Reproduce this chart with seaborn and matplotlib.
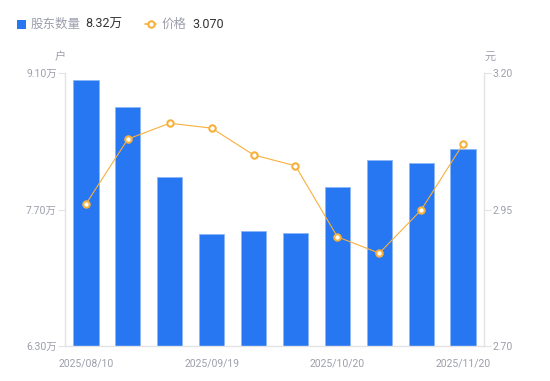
import numpy as np
import pandas as pd
import matplotlib
matplotlib.use("Agg")
import matplotlib.pyplot as plt
import seaborn as sns
from matplotlib.lines import Line2D
from matplotlib.patches import Rectangle

dates = ["2025/08/10", "2025/08/20", "2025/08/31", "2025/09/19", "2025/09/30",
         "2025/10/10", "2025/10/20", "2025/10/31", "2025/11/10", "2025/11/20"]
holders = [9.03, 8.75, 8.03, 7.45, 7.48, 7.46, 7.93, 8.21, 8.18, 8.32]  # 万户
prices = [2.960, 3.079, 3.108, 3.099, 3.050, 3.030, 2.900, 2.870, 2.949, 3.070]
shown_labels = ["2025/08/10", "2025/09/19", "2025/10/20", "2025/11/20"]
left_ticks = [6.30, 7.70, 9.10]
right_ticks = [2.70, 2.95, 3.20]

sns.set_theme(style="white")
plt.rcParams["font.family"] = ["Roboto", "Noto Sans CJK SC", "DejaVu Sans"]

BLUE = "#2777f3"
ORANGE = "#f7b03c"
GRAY = "#9d9fab"
SPINE = "#e3e3e6"
DARK = "#333333"
CJK = ["Noto Sans CJK SC", "DejaVu Sans"]

fig = plt.figure(figsize=(5.5, 3.81), dpi=100)
ax = fig.add_axes([65 / 550, 1 - 346 / 381, (484 - 65) / 550, (346 - 73) / 381])

df = pd.DataFrame({"date": dates, "holders": holders, "price": prices})
sns.barplot(data=df, x="date", y="holders", color=BLUE, width=0.6, ax=ax,
            saturation=1, edgecolor="#8db6f7", linewidth=0.6)
ax.set_ylim(left_ticks[0], left_ticks[-1])
ax.set_xlim(-0.5, len(dates) - 0.5)
ax.set_yticks(left_ticks)
ax.set_yticklabels([f"{v:.2f}万" for v in left_ticks])
idx = [dates.index(d) for d in shown_labels]
ax.set_xticks(idx)
ax.set_xticklabels(shown_labels)
ax.set_xlabel("")
ax.set_ylabel("")

ax2 = ax.twinx()
sns.lineplot(x=np.arange(len(prices)), y=prices, ax=ax2, color=ORANGE, linewidth=0.8,
             marker="o", markersize=4.6, markerfacecolor="white",
             markeredgecolor=ORANGE, markeredgewidth=1.5)
ax2.set_ylim(right_ticks[0], right_ticks[-1])
ax2.set_yticks(right_ticks)
ax2.set_yticklabels([f"{v:.2f}" for v in right_ticks])
ax2.set_xlim(-0.5, len(dates) - 0.5)

for a in (ax, ax2):
    for s in a.spines.values():
        s.set_visible(False)
    a.grid(False)
ax.spines["left"].set_visible(True)
ax.spines["left"].set_color(SPINE)
ax.spines["bottom"].set_visible(True)
ax.spines["bottom"].set_color(SPINE)
ax2.spines["right"].set_visible(True)
ax2.spines["right"].set_color(SPINE)
for s in (ax.spines["left"], ax.spines["bottom"], ax2.spines["right"]):
    s.set_linewidth(1)

ax.tick_params(axis="y", left=True, length=5, width=0.8, color=SPINE,
               labelsize=7.5, labelcolor=GRAY, pad=1)
ax.tick_params(axis="x", bottom=False, labelsize=7.5, labelcolor=GRAY, pad=3)
ax2.tick_params(axis="y", right=True, length=5, width=0.8, color=SPINE,
                labelsize=7.5, labelcolor=GRAY, pad=1)

# unit labels
fig.text(60 / 550, 1 - 57 / 381, "户", color=GRAY, fontsize=8, ha="center", va="center", family=CJK)
fig.text(490 / 550, 1 - 57 / 381, "元", color=GRAY, fontsize=8, ha="center", va="center", family=CJK)

# legend
ly = 1 - 24 / 381
fig.patches.append(Rectangle((17 / 550, 1 - 28.5 / 381), 8.5 / 550, 8.5 / 381,
                             transform=fig.transFigure, facecolor=BLUE, edgecolor="none"))
fig.text(31 / 550, ly, "股东数量", color=GRAY, fontsize=9, ha="left", va="center", family=CJK)
fig.text(85 / 550, ly, "8.32万", color=DARK, fontsize=9, ha="left", va="center")
fig.lines.append(Line2D([145 / 550, 156 / 550], [ly, ly], transform=fig.transFigure,
                        color=ORANGE, linewidth=1.2))
fig.lines.append(Line2D([150.5 / 550], [ly], transform=fig.transFigure, color=ORANGE,
                        marker="o", markersize=4.6, markerfacecolor="white",
                        markeredgecolor=ORANGE, markeredgewidth=1.5, linestyle="none"))
fig.text(162 / 550, ly, "价格", color=GRAY, fontsize=9, ha="left", va="center", family=CJK)
fig.text(192 / 550, ly, "3.070", color=DARK, fontsize=9, ha="left", va="center")

fig.savefig("out.png", dpi=100)
